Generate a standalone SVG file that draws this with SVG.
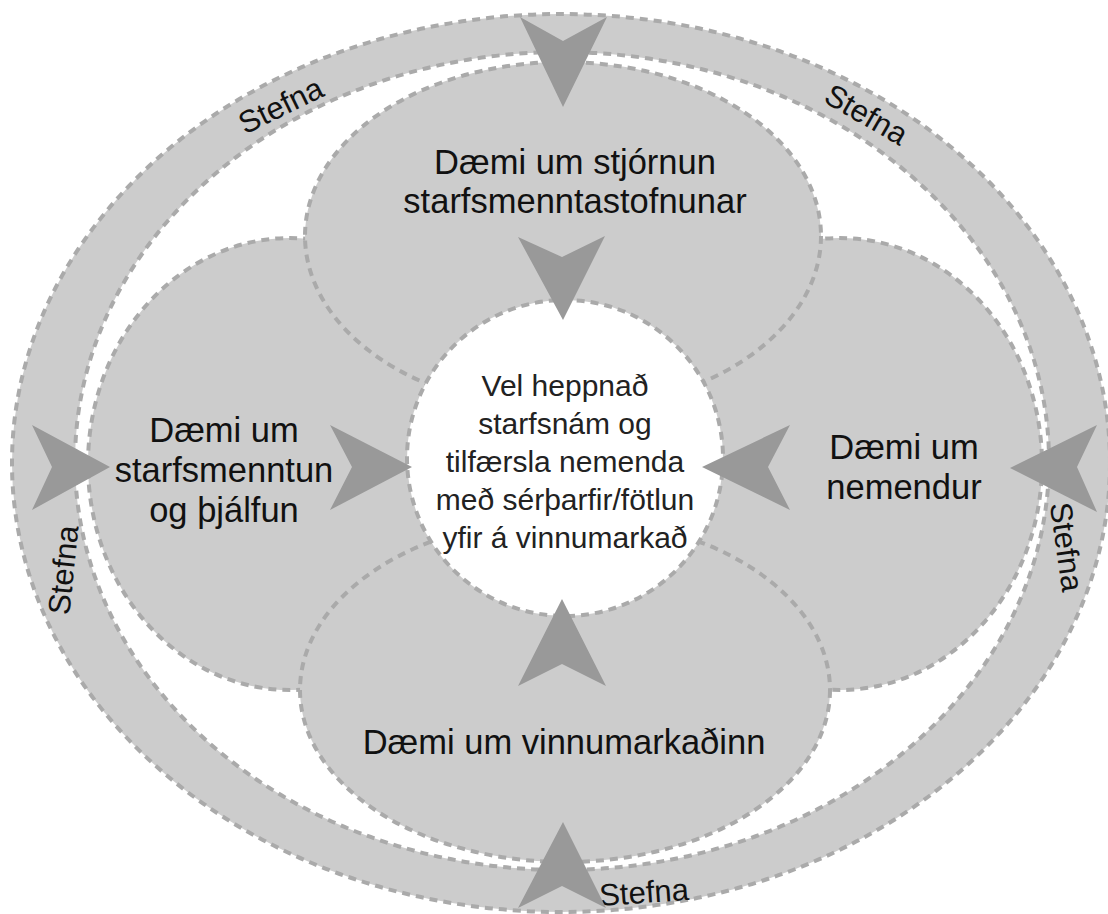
<svg xmlns="http://www.w3.org/2000/svg" width="1108" height="914" viewBox="0 0 1108 914">
  <style>
    .ring { fill: #cccccc; stroke: #aaaaaa; stroke-width: 4; stroke-dasharray: 8 6; }
    .hole { fill: #ffffff; stroke: #aaaaaa; stroke-width: 4; stroke-dasharray: 8 6; }
    .lobe { fill: #cccccc; stroke: #aaaaaa; stroke-width: 4; stroke-dasharray: 8 6; }
    .center { fill: #ffffff; stroke: #aaaaaa; stroke-width: 4; stroke-dasharray: 8 6; }
    .arrow { fill: #999999; stroke: none; }
    .lbl { font-family: "Liberation Sans", Helvetica, Arial, sans-serif; font-size: 34.5px; fill: #111111; text-anchor: middle; }
    .ctr { font-family: "Liberation Sans", Helvetica, Arial, sans-serif; font-size: 30px; fill: #222222; text-anchor: middle; }
    .stefna { font-family: "Liberation Sans", Helvetica, Arial, sans-serif; font-size: 31px; fill: #111111; text-anchor: middle; }
  </style>
  <rect x="0" y="0" width="1108" height="914" fill="#ffffff"/>

  <g id="ring">
    <ellipse class="ring" cx="561" cy="463" rx="549" ry="449"/>
    <ellipse class="hole" cx="562" cy="461" rx="487" ry="409"/>
    <text class="stefna" transform="translate(281,106) rotate(-26)" x="0" y="10">Stefna</text>
    <text class="stefna" transform="translate(866,115) rotate(30)" x="0" y="10">Stefna</text>
    <text class="stefna" transform="translate(64,570) rotate(-84)" x="0" y="10">Stefna</text>
    <text class="stefna" transform="translate(1066,547) rotate(82)" x="0" y="10">Stefna</text>
    <text class="stefna" transform="translate(644,893) rotate(-4)" x="0" y="10">Stefna</text>
  </g>

  <g id="lobe-left">
    <ellipse class="lobe" cx="290" cy="464" rx="202" ry="226"/>
    <text class="lbl" x="224" y="442">Dæmi um</text>
    <text class="lbl" x="224" y="482">starfsmenntun</text>
    <text class="lbl" x="224" y="522">og þjálfun</text>
  </g>

  <g id="lobe-right">
    <ellipse class="lobe" cx="840" cy="464" rx="202" ry="226"/>
    <text class="lbl" x="904" y="459">Dæmi um</text>
    <text class="lbl" x="904" y="499">nemendur</text>
  </g>

  <g id="lobe-top">
    <ellipse class="lobe" cx="563" cy="236" rx="258" ry="174"/>
    <text class="lbl" x="575" y="174">Dæmi um stjórnun</text>
    <text class="lbl" x="575" y="213">starfsmenntastofnunar</text>
  </g>

  <g id="lobe-bottom">
    <ellipse class="lobe" cx="565" cy="690" rx="265" ry="172"/>
    <text class="lbl" x="564" y="754">Dæmi um vinnumarkaðinn</text>
  </g>

  <g id="center">
    <circle class="center" cx="565" cy="458" r="158"/>
    <text class="ctr" x="565" y="396">Vel heppnað</text>
    <text class="ctr" x="565" y="434">starfsnám og</text>
    <text class="ctr" x="565" y="472">tilfærsla nemenda</text>
    <text class="ctr" x="565" y="510">með sérþarfir/fötlun</text>
    <text class="ctr" x="565" y="548">yfir á vinnumarkað</text>
  </g>

  <g id="connectors">
    <polygon class="arrow" points="520,17 563,41 607,17 563,107"/>
    <polygon class="arrow" points="518,237 562,257 605,236 563,320"/>
    <polygon class="arrow" points="518,686 562,664 606,686 562,599"/>
    <polygon class="arrow" points="518,908 562,886 606,908 563,822"/>
    <polygon class="arrow" points="32,425 52,467 32,510 110,467"/>
    <polygon class="arrow" points="330,425 352,467 330,510 412,467"/>
    <polygon class="arrow" points="790,425 768,467 790,510 702,467"/>
    <polygon class="arrow" points="1097,425 1077,467 1097,512 1010,468"/>
  </g>
</svg>
